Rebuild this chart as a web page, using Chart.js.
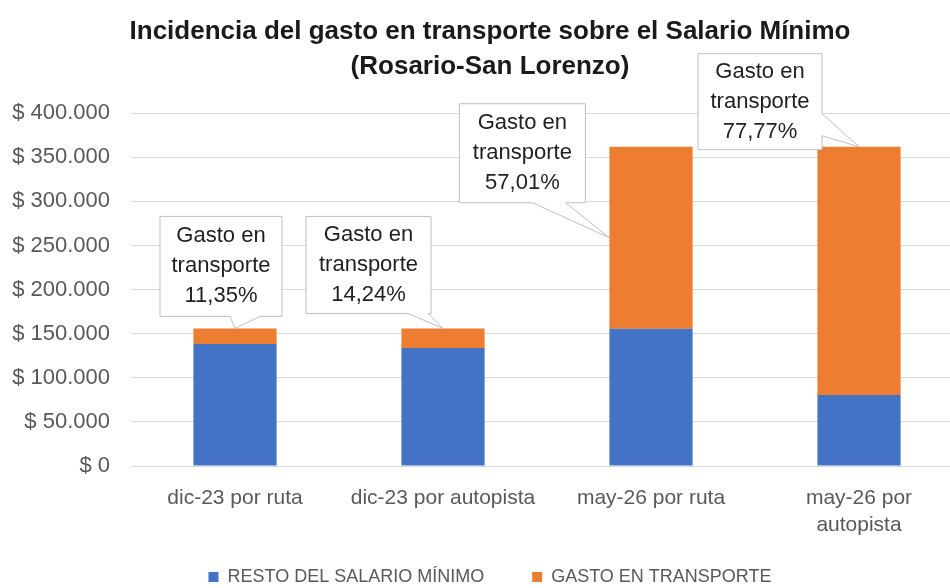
<!DOCTYPE html>
<html>
<head>
<meta charset="utf-8">
<script src="https://cdn.jsdelivr.net/npm/chart.js@4.4.0/dist/chart.umd.min.js"></script>
<style>
  html, body { margin: 0; padding: 0; background: #fff; overflow: hidden; }
  #wrap { width: 980px; height: 588px; position: relative; }
</style>
</head>
<body>
<div id="wrap"><canvas id="chart"></canvas></div>
<script>
// Datos (salario mínimo y gasto en transporte)
const categories = ['dic-23 por ruta', 'dic-23 por autopista', 'may-26 por ruta', ['may-26 por', 'autopista']];
const restoSalario = [138294, 133786, 155624, 80473];
const gastoTransporte = [17706, 22214, 206376, 281527];
const porcentajes = ['11,35%', '14,24%', '57,01%', '77,77%'];
const seriesNames = ['RESTO DEL SALARIO MÍNIMO', 'GASTO EN TRANSPORTE'];
const yMax = 400000;
const yStep = 50000;

// Callouts: caja relativa a la punta, y donde sale el piquito
const callouts = [
  { tip: 'top',  dx: -75,  dy: -112, w: 122, h: 100, side: 'bottom', a: 70,  b: 100 },
  { tip: 'top',  dx: -137, dy: -112, w: 125, h: 97,  side: 'bottom', a: 102, b: 122 },
  { tip: 'left', dx: -150, dy: -134, w: 126, h: 99,  side: 'bottom', a: 73,  b: 106 },
  { tip: 'top',  dx: -161, dy: -93,  w: 124, h: 96,  side: 'right',  a: 60,  b: 82 }
];

const FONT = '"Liberation Sans", Arial, sans-serif';

function formatPesos(v) {
  return '$ ' + v.toString().replace(/\B(?=(\d{3})+(?!\d))/g, '.');
}

const calloutPlugin = {
  id: 'callouts',
  afterLayout(chart) {
    // subir la leyenda (el padding grande la empuja hacia abajo)
    chart.legend.top -= 17;
    chart.legend.bottom -= 17;
  },
  afterDatasetsDraw(chart) {
    const ctx = chart.ctx;
    const meta = chart.getDatasetMeta(1);
    meta.data.forEach((bar, i) => {
      const c = callouts[i];
      const tx = c.tip === 'top' ? bar.x : bar.x - bar.width / 2;
      const ty = c.tip === 'top' ? bar.y : (bar.y + bar.base) / 2;
      const x = tx + c.dx, y = ty + c.dy;
      ctx.save();
      ctx.beginPath();
      ctx.moveTo(x, y);
      if (c.side === 'right') {
        ctx.lineTo(x + c.w, y);
        ctx.lineTo(x + c.w, y + c.a);
        ctx.lineTo(tx, ty);
        ctx.lineTo(x + c.w, y + c.b);
        ctx.lineTo(x + c.w, y + c.h);
        ctx.lineTo(x, y + c.h);
      } else {
        ctx.lineTo(x + c.w, y);
        ctx.lineTo(x + c.w, y + c.h);
        ctx.lineTo(x + c.b, y + c.h);
        ctx.lineTo(tx, ty);
        ctx.lineTo(x + c.a, y + c.h);
        ctx.lineTo(x, y + c.h);
      }
      ctx.closePath();
      ctx.fillStyle = '#ffffff';
      ctx.fill();
      ctx.strokeStyle = '#bfbfbf';
      ctx.lineWidth = 1;
      ctx.stroke();

      ctx.fillStyle = '#1f1f1f';
      ctx.font = '22px ' + FONT;
      ctx.textAlign = 'center';
      ctx.textBaseline = 'middle';
      const lines = ['Gasto en', 'transporte', porcentajes[i]];
      const cx = x + c.w / 2, cy = y + c.h / 2;
      lines.forEach((t, k) => ctx.fillText(t, cx, cy + (k - 1) * 30));
      ctx.restore();
    });
  }
};

new Chart(document.getElementById('chart'), {
  type: 'bar',
  data: {
    labels: categories,
    datasets: [
      { label: seriesNames[0], data: restoSalario, backgroundColor: '#4472C4' },
      { label: seriesNames[1], data: gastoTransporte, backgroundColor: '#ED7D31' }
    ]
  },
  options: {
    responsive: true,
    maintainAspectRatio: false,
    animation: false,
    categoryPercentage: 0.8,
    barPercentage: 0.5,
    layout: { padding: { top: 8, right: 0, left: 0, bottom: -25 } },
    plugins: {
      title: {
        display: true,
        text: ['Incidencia del gasto en transporte sobre el Salario Mínimo', '(Rosario-San Lorenzo)'],
        color: '#1a1a1a',
        font: { family: FONT, size: 26, weight: 'bold', lineHeight: 1.35 },
        padding: { top: 6, bottom: 29 }
      },
      legend: {
        position: 'bottom',
        labels: {
          color: '#595959',
          font: { family: FONT, size: 18 },
          boxWidth: 10,
          boxHeight: 10,
          padding: 48
        }
      },
      tooltip: { enabled: false }
    },
    scales: {
      x: {
        stacked: true,
        grid: { display: false },
        border: { display: false },
        ticks: {
          color: '#595959',
          font: { family: FONT, size: 21, lineHeight: 1.29 },
          padding: 11,
          maxRotation: 0
        },
        afterFit(scale) { scale.height = 71; }
      },
      y: {
        stacked: true,
        min: 0,
        max: yMax,
        grid: { color: '#d9d9d9', drawTicks: false },
        border: { display: false },
        ticks: {
          stepSize: yStep,
          color: '#595959',
          font: { family: FONT, size: 22 },
          padding: 21,
          callback: v => formatPesos(v)
        },
        afterFit(scale) { scale.width = 131; }
      },
      yRight: {
        position: 'right',
        grid: { display: false },
        border: { display: false },
        ticks: { display: false },
        afterFit(scale) { scale.width = 17; }
      }
    }
  },
  plugins: [calloutPlugin]
});
</script>
</body>
</html>
